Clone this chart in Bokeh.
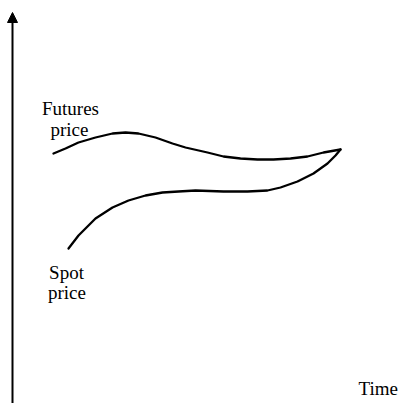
from bokeh.plotting import figure
from bokeh.models import Range1d, Arrow, NormalHead
from bokeh.core.properties import value
from bokeh.embed import file_html
from bokeh.resources import INLINE

# Futures price curve (time, price)
futures_time = [41, 53, 66, 83, 100, 113, 126, 143, 160, 173, 195, 211, 228, 245, 261, 278, 295, 311, 328]
futures_price = [250, 255, 261, 266, 270, 271, 270, 266, 260, 256, 251, 247, 245, 244, 244, 245, 247, 251, 254]

# Spot price curve
spot_time = [56, 66, 83, 100, 116, 133, 150, 166, 183, 211, 235, 255, 268, 285, 301, 315, 323, 328]
spot_price = [155, 168, 185, 196, 203, 208, 211, 212, 213, 212, 212, 213, 216, 222, 230, 240, 248, 254]

# Labels
label_text = ["Futures", "price", "Spot", "price"]
label_x = [58, 57, 54, 54.5]
label_y = [295, 274, 131, 111]

axis_top = 391

W, H = 401, 403
p = figure(width=W, height=H, output_backend="svg", toolbar_location=None,
           x_range=Range1d(-12, W - 12), y_range=Range1d(0, H),
           min_border=0, min_border_left=0, min_border_right=0,
           min_border_top=0, min_border_bottom=0)
p.axis.visible = False
p.grid.visible = False
p.outline_line_color = None
p.background_fill_color = "white"
p.border_fill_color = "white"

p.line(futures_time, futures_price, line_color="black", line_width=2.3, line_join="round", line_cap="round")
p.line(spot_time, spot_price, line_color="black", line_width=2.3, line_join="round", line_cap="round")

p.add_layout(Arrow(end=NormalHead(size=10, fill_color="black", line_color="black", line_width=1),
                   x_start=0, y_start=0, x_end=0, y_end=axis_top,
                   line_color="black", line_width=2))

p.text(x=label_x, y=label_y, text=label_text, text_font=value("Liberation Serif"),
       text_font_size="19px", text_align="center", text_baseline="alphabetic", text_color="black")
p.text(x=[346], y=[15], text=["Time"], text_font=value("Liberation Serif"),
       text_font_size="19px", text_align="left", text_baseline="alphabetic", text_color="black")

open("out.html", "w").write(file_html(p, INLINE))
